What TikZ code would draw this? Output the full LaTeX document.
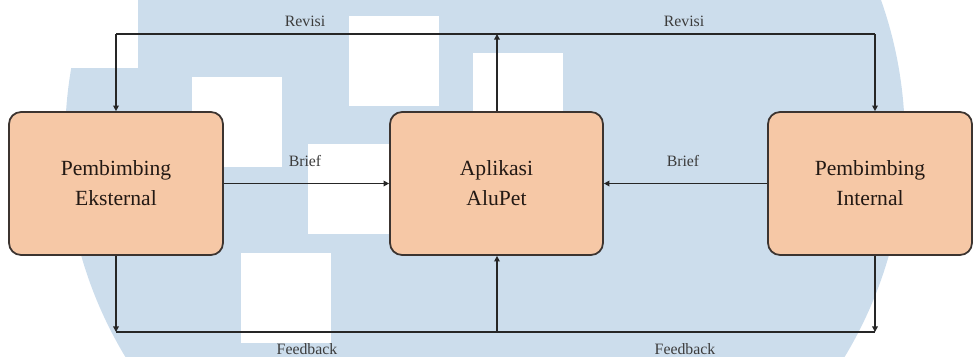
\documentclass[tikz,border=0pt]{standalone}
\usepackage{fontspec}
\setmainfont{Liberation Serif}
\usetikzlibrary{arrows.meta}
\definecolor{wmblue}{RGB}{204,221,236}
\definecolor{boxfill}{RGB}{246,200,166}
\definecolor{boxline}{RGB}{60,52,48}
\definecolor{lbl}{RGB}{60,60,60}
\definecolor{txt}{RGB}{35,25,20}
\tikzset{
  procbox/.style={draw=boxline, line width=1pt, fill=boxfill, rounded corners=0.24cm,
    minimum height=2.86cm, align=center, text=txt,
    font=\fontsize{12.3}{17}\selectfont, inner sep=0pt},
  conn/.style={draw=black!85, line width=0.75pt},
  arr/.style={conn, -{Triangle[length=3.2pt,width=3.2pt]}},
  lab/.style={text=lbl, font=\fontsize{9}{10}\selectfont, anchor=base, inner sep=0pt}
}
\begin{document}
\begin{tikzpicture}[x=0.02cm,y=-0.02cm]
\useasboundingbox (0,0) rectangle (974,356);
% watermark background
\begin{scope}
  \clip (0,0) rectangle (974,356);
  \fill[wmblue] (485,140) circle[radius=8.4cm];
  \fill[white] (0,0) rectangle (138,68);
  \fill[white] (192,77) rectangle (282,167);
  \fill[white] (349,16) rectangle (439,106);
  \fill[white] (473,53) rectangle (563,120);
  \fill[white] (308,144) rectangle (390,234);
  \fill[white] (241,253) rectangle (331,343);
\end{scope}
% boxes
\node[procbox, minimum width=4.28cm] (lb) at (116,183.5) {Pembimbing\\Eksternal};
\node[procbox, minimum width=4.26cm] (mb) at (496.5,183.5) {Aplikasi\\AluPet};
\node[procbox, minimum width=4.08cm] (rb) at (870,183.5) {Pembimbing\\Internal};
% junction coordinates
\coordinate (tl) at (116,34);
\coordinate (tm) at (497,34);
\coordinate (tr) at (875,34);
\coordinate (bl) at (116,332);
\coordinate (bm) at (497,332);
\coordinate (br) at (875,332);
% connectors
\draw[conn] (tl) -- (tr);
\draw[conn] (bl) -- (br);
\draw[arr] (tl) -- (lb.north);
\draw[arr] (mb.north -| tm) -- (tm);
\draw[arr] (tr) -- (rb.north -| tr);
\draw[arr] (lb.east) -- (mb.west);
\draw[arr] (rb.west) -- (mb.east);
\draw[arr] (lb.south) -- (bl);
\draw[arr] (rb.south -| br) -- (br);
\draw[arr] (bm) -- (mb.south -| bm);
% labels
\node[lab] (rev1) at (305,26) {Revisi};
\node[lab] (rev2) at (684,26) {Revisi};
\node[lab] (br1) at (305,166) {Brief};
\node[lab] (br2) at (683,166) {Brief};
\node[lab] (fb1) at (307,354) {Feedback};
\node[lab] (fb2) at (685,354) {Feedback};
\end{tikzpicture}
\end{document}
